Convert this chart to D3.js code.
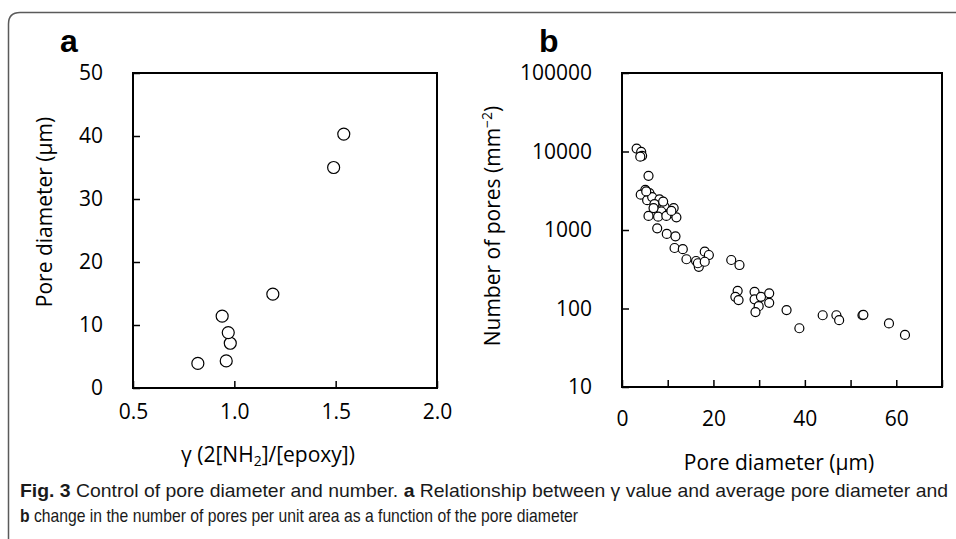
<!DOCTYPE html>
<html lang="en">
<head>
    <meta charset="UTF-8">
    <title>Fig. 3 Pore diameter and number</title>
    <script src="https://d3js.org/d3.v7.min.js"></script>
    <style>
        body {
            margin: 0;
            background: #fff;
        }

        svg text {
            fill: #000;
        }

        .tick text {
            font-family: "Open Sans", sans-serif;
            font-size: 21px;
        }

        .axis-title {
            font-family: "Open Sans", sans-serif;
            font-size: 21px;
        }

        .panel-label {
            font-family: "Liberation Sans", Arial, sans-serif;
            font-size: 32px;
            font-weight: bold;
        }

        .caption {
            font-family: "Liberation Sans Narrow", "Liberation Sans", sans-serif;
            font-size: 18.5px;
            fill: #1a1a1a;
        }
    </style>
</head>
<body>
<svg id="chart" width="956" height="539"></svg>
<script>

    // Panel a: gamma value vs average pore diameter
    const gammaVals = [0.82, 0.96, 0.98, 0.97, 0.94, 1.19, 1.49, 1.54];
    const poreDiamA = [3.9, 4.3, 7.1, 8.8, 11.4, 14.9, 35.0, 40.3];

    // Panel b: pore diameter vs number of pores per mm2
    const poreDiamB = [3.2, 4.2, 4.4, 4.0, 5.8, 5.1, 4.1, 6.0, 5.5, 6.6, 8.2, 7.1, 9.3, 11.3, 8.6, 10.4,
        5.8, 11.9, 7.9, 9.7, 6.9, 9.0, 10.8, 5.3, 7.7, 9.8, 11.7, 11.5, 13.3, 18.1, 19.0, 14.1, 16.2, 16.8,
        16.6, 18.1, 23.9, 25.7, 25.3, 24.8, 25.5, 29.0, 29.0, 30.4, 32.2, 32.2, 29.9, 29.2, 36.0, 38.8,
        43.9, 46.9, 47.5, 52.6, 52.8, 58.4, 61.9];
    const poreCount = [10900, 9900, 8800, 8600, 4900, 3240, 2820, 2950, 2400, 2630, 2460, 2140, 1990, 1900, 1720, 1630,
        1510, 1450, 1480, 1510, 1900, 2300, 1750, 3100, 1050, 890, 830, 590, 570, 530, 480, 424, 403, 340,
        377, 394, 415, 358, 168, 141, 128, 163, 131, 141, 156, 118, 107, 90, 95.5, 56,
        82, 82, 71, 82, 83, 64.6, 46];

    const xTicksA = [0.5, 1.0, 1.5, 2.0];
    const yTicksA = [0, 10, 20, 30, 40, 50];
    const xTicksB = [0, 10, 20, 30, 40, 50, 60, 70];
    const yTicksB = [10, 100, 1000, 10000, 100000];

    const svg = d3.select("#chart");

    // outer figure frame (rounded top-left corner, runs off right and bottom)
    svg.append("path")
        .attr("d", "M8.5,539 V24 Q8.5,12.5 20,12.5 H956")
        .attr("fill", "none")
        .attr("stroke", "#5a5a5a")
        .attr("stroke-width", 1.5);

    // ---------- panel a ----------
    const boxA = {left: 133, right: 437, top: 73, bottom: 388};
    const xA = d3.scaleLinear().domain([0.5, 2.0]).range([boxA.left, boxA.right]);
    const yA = d3.scaleLinear().domain([0, 50]).range([boxA.bottom, boxA.top]);

    const gA = svg.append("g");

    gA.append("g")
        .attr("transform", `translate(0,${boxA.bottom})`)
        .call(d3.axisBottom(xA).tickValues(xTicksA).tickFormat(d3.format(".1f"))
            .tickSizeInner(-7).tickSizeOuter(0).tickPadding(16))
        .call(g => g.select(".domain").remove());

    gA.append("g")
        .attr("transform", `translate(${boxA.left},0)`)
        .call(d3.axisLeft(yA).tickValues(yTicksA)
            .tickSizeInner(-7).tickSizeOuter(0).tickPadding(30))
        .call(g => g.select(".domain").remove());

    gA.selectAll(".tick line").attr("stroke", "#000").attr("stroke-width", 1.5);

    gA.append("rect")
        .attr("x", boxA.left).attr("y", boxA.top)
        .attr("width", boxA.right - boxA.left).attr("height", boxA.bottom - boxA.top)
        .attr("fill", "none").attr("stroke", "#000").attr("stroke-width", 2);

    gA.selectAll("circle")
        .data(gammaVals.map((g, i) => ({x: g, y: poreDiamA[i]})))
        .enter().append("circle")
        .attr("cx", d => xA(d.x))
        .attr("cy", d => yA(d.y))
        .attr("r", 6)
        .attr("fill", "#fff")
        .attr("stroke", "#000")
        .attr("stroke-width", 1.2);

    gA.append("text")
        .attr("class", "panel-label")
        .attr("x", 60).attr("y", 52)
        .text("a");

    const xTitleA = gA.append("text")
        .attr("class", "axis-title")
        .attr("x", 268).attr("y", 462)
        .attr("text-anchor", "middle");
    xTitleA.append("tspan").text("γ (2[NH");
    xTitleA.append("tspan").attr("font-size", "14px").attr("dy", 4).text("2");
    xTitleA.append("tspan").attr("dy", -4).text("]/[epoxy])");

    gA.append("text")
        .attr("class", "axis-title")
        .attr("transform", "translate(52,212) rotate(-90)")
        .attr("text-anchor", "middle")
        .text("Pore diameter (μm)");

    // ---------- panel b ----------
    const boxB = {left: 622, right: 942, top: 73, bottom: 387};
    const xB = d3.scaleLinear().domain([0, 70]).range([boxB.left, boxB.right]);
    const yB = d3.scaleLog().domain([10, 100000]).range([boxB.bottom, boxB.top]);

    const gB = svg.append("g");

    gB.append("g")
        .attr("transform", `translate(0,${boxB.bottom})`)
        .call(d3.axisBottom(xB).tickValues(xTicksB).tickFormat(d => d % 20 === 0 && d < 70 ? d : "")
            .tickSizeInner(-7).tickSizeOuter(0).tickPadding(24))
        .call(g => g.select(".domain").remove());

    gB.append("g")
        .attr("transform", `translate(${boxB.left},0)`)
        .call(d3.axisLeft(yB).tickValues(yTicksB).tickFormat(d3.format("d"))
            .tickSizeInner(-7).tickSizeOuter(0).tickPadding(30))
        .call(g => g.select(".domain").remove());

    gB.selectAll(".tick line").attr("stroke", "#000").attr("stroke-width", 1.5);

    gB.append("rect")
        .attr("x", boxB.left).attr("y", boxB.top)
        .attr("width", boxB.right - boxB.left).attr("height", boxB.bottom - boxB.top)
        .attr("fill", "none").attr("stroke", "#000").attr("stroke-width", 2);

    gB.selectAll("circle")
        .data(poreDiamB.map((p, i) => ({x: p, y: poreCount[i]})))
        .enter().append("circle")
        .attr("cx", d => xB(d.x))
        .attr("cy", d => yB(d.y))
        .attr("r", 4.5)
        .attr("fill", "#fff")
        .attr("stroke", "#000")
        .attr("stroke-width", 1.2);

    gB.append("text")
        .attr("class", "panel-label")
        .attr("x", 539).attr("y", 52)
        .text("b");

    gB.append("text")
        .attr("class", "axis-title")
        .attr("x", 779).attr("y", 470)
        .attr("text-anchor", "middle")
        .text("Pore diameter (μm)");

    const yTitleB = gB.append("text")
        .attr("class", "axis-title")
        .attr("transform", "translate(500,226) rotate(-90)")
        .attr("text-anchor", "middle");
    yTitleB.append("tspan").text("Number of pores (mm");
    yTitleB.append("tspan").attr("font-size", "14px").attr("dy", -8).text("−2");
    yTitleB.append("tspan").attr("dy", 8).text(")");

    // ---------- caption ----------
    const cap1 = svg.append("text")
        .attr("class", "caption")
        .attr("x", 20).attr("y", 497)
        .attr("textLength", 928).attr("lengthAdjust", "spacingAndGlyphs");
    cap1.append("tspan").attr("font-weight", "bold").text("Fig. 3");
    cap1.append("tspan").text("  Control of pore diameter and number. ");
    cap1.append("tspan").attr("font-weight", "bold").text("a");
    cap1.append("tspan").text(" Relationship between γ value and average pore diameter and");

    const cap2 = svg.append("text")
        .attr("class", "caption")
        .attr("x", 20).attr("y", 522)
        .attr("textLength", 558).attr("lengthAdjust", "spacingAndGlyphs");
    cap2.append("tspan").attr("font-weight", "bold").text("b");
    cap2.append("tspan").text(" change in the number of pores per unit area as a function of the pore diameter");
</script>
</body>
</html>
